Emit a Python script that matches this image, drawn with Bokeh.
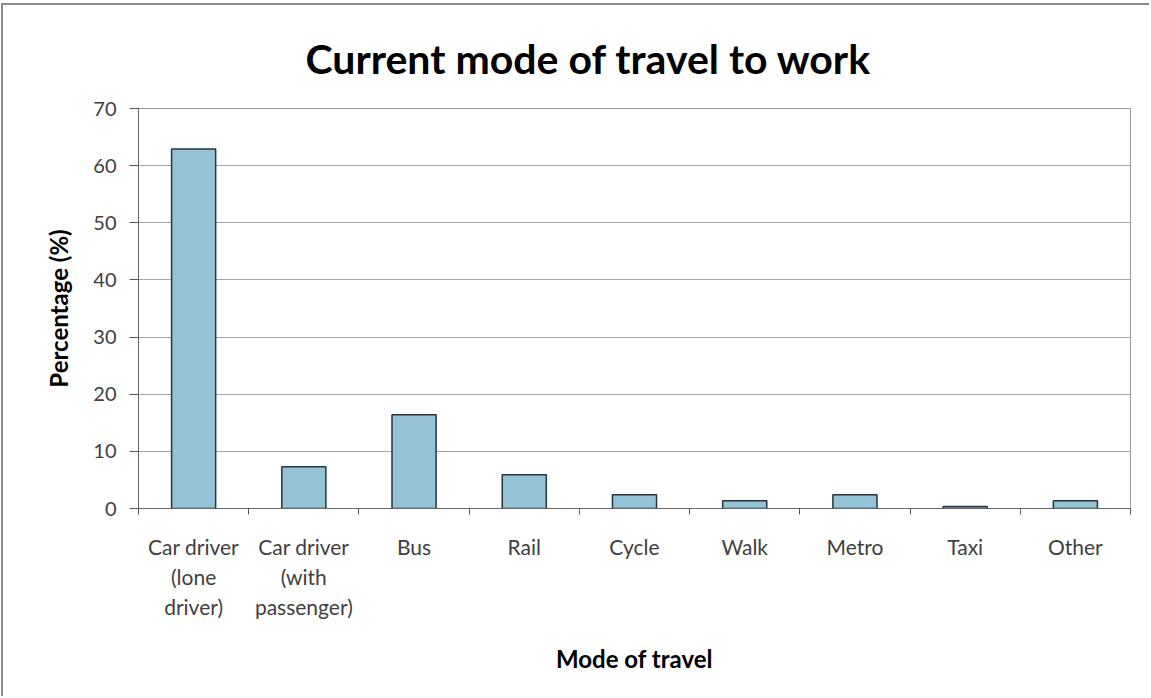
from bokeh.plotting import figure
from bokeh.models import Range1d, FixedTicker, Title
from bokeh.embed import file_html
from bokeh.resources import INLINE
import numpy as np

categories = ["Car driver\n(lone\ndriver)", "Car driver\n(with\npassenger)", "Bus", "Rail",
              "Cycle", "Walk", "Metro", "Taxi", "Other"]
percentages = [62.9, 7.3, 16.4, 5.9, 2.4, 1.35, 2.4, 0.35, 1.35]
y_ticks = [0, 10, 20, 30, 40, 50, 60, 70]

FONT = "Lato"
n = len(categories)
xc = np.arange(n) + 0.5

# figure shifted by outer border (3px left, 5px top) via CSS
p = figure(width=1148, height=693, output_backend="svg", toolbar_location=None,
           x_range=Range1d(0, n), y_range=Range1d(0, 70),
           min_border_left=135, min_border_right=21, min_border_top=103, min_border_bottom=190)
p.styles = {"border-top": "2px solid #8c8c8c", "border-left": "2px solid #8c8c8c",
            "margin-top": "3px", "margin-left": "1px"}
p.background_fill_color = "white"
p.border_fill_color = "white"
p.outline_line_color = "#999999"
p.outline_line_width = 1

p.vbar(x=xc, top=percentages, width=0.4, fill_color="#93c3d5",
       line_color="#243440", line_width=1.5)

# y axis
p.yaxis.ticker = FixedTicker(ticks=y_ticks)
p.yaxis.axis_line_color = "#666666"
p.yaxis.major_tick_line_color = "#555555"
p.yaxis.major_tick_out = 9
p.yaxis.major_tick_in = 0
p.yaxis.minor_tick_line_color = None
p.yaxis.major_label_text_font = FONT
p.yaxis.major_label_text_font_size = "20px"
p.yaxis.major_label_text_color = "#404040"
p.yaxis.major_label_standoff = 13
p.yaxis.axis_label = "Percentage (%)"
p.yaxis.axis_label_text_font = FONT
p.yaxis.axis_label_text_font_size = "24px"
p.yaxis.axis_label_text_font_style = "bold"
p.yaxis.axis_label_text_color = "#000000"
p.yaxis.axis_label_standoff = 17

# x axis: labels at centres, ticks at boundaries
p.xaxis.ticker = FixedTicker(ticks=list(xc), minor_ticks=list(range(n + 1)))
p.xaxis.major_label_overrides = {float(x): c for x, c in zip(xc, categories)}
p.xaxis.axis_line_color = "#666666"
p.xaxis.major_tick_line_color = None
p.xaxis.major_tick_out = 0
p.xaxis.minor_tick_line_color = "#555555"
p.xaxis.minor_tick_out = 6
p.xaxis.minor_tick_in = 0
p.xaxis.major_label_text_font = FONT
p.xaxis.major_label_text_font_size = "21px"
p.xaxis.major_label_text_color = "#404040"
p.xaxis.major_label_standoff = 19
p.xaxis.axis_label = "Mode of travel"
p.xaxis.axis_label_text_font = FONT
p.xaxis.axis_label_text_font_size = "24px"
p.xaxis.axis_label_text_font_style = "bold"
p.xaxis.axis_label_text_color = "#000000"
p.xaxis.axis_label_standoff = 22

p.xgrid.grid_line_color = None
p.ygrid.ticker = FixedTicker(ticks=y_ticks)
p.ygrid.grid_line_color = "#a6a6a6"
p.ygrid.grid_line_width = 1

p.add_layout(Title(text="Current mode of travel to work", align="left", offset=167,
                   text_font=FONT, text_font_size="41px", text_font_style="bold",
                   text_color="#000000", standoff=52), "above")

open("out.html", "w").write(file_html(p, INLINE))
